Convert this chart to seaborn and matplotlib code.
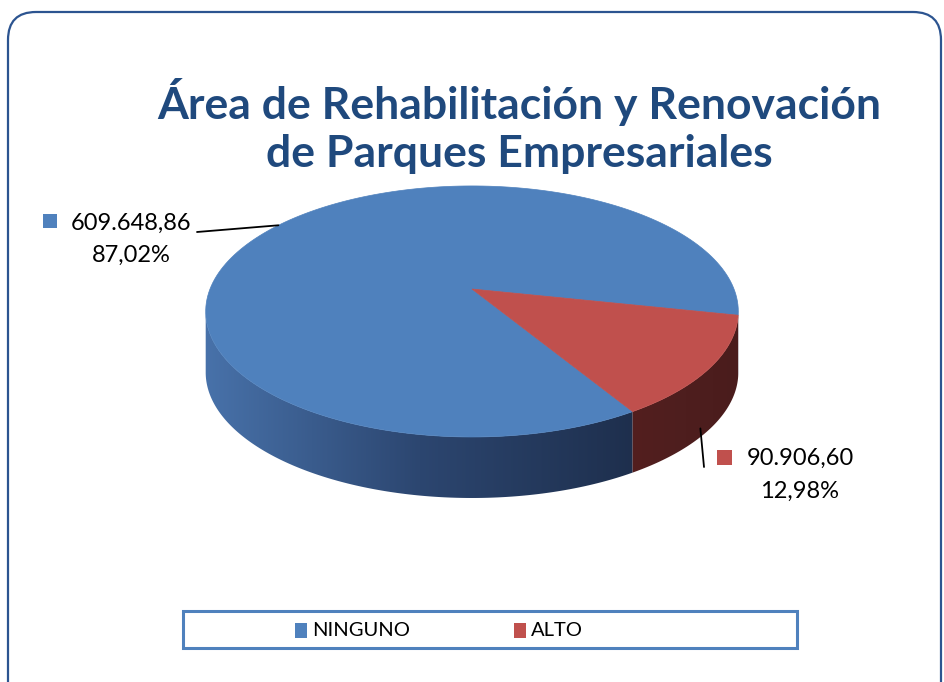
import numpy as np
import matplotlib
matplotlib.use("Agg")
import matplotlib.pyplot as plt
import seaborn as sns
from matplotlib.patches import Polygon, FancyBboxPatch, Rectangle
from matplotlib.colors import LinearSegmentedColormap

# data
categories = ["NINGUNO", "ALTO"]
values = [609648.86, 90906.60]
value_labels = ["609.648,86", "90.906,60"]
pct_labels = ["87,02%", "12,98%"]
colors = ["#4F81BD", "#C0504D"]

sns.set_theme(style="white")
plt.rcParams["font.family"] = ["Lato", "DejaVu Sans"]

fig = plt.figure(figsize=(9.44, 6.82), dpi=100)
ax = fig.add_axes([0, 0, 1, 1])
ax.set_xlim(0, 944)
ax.set_ylim(682, 0)
ax.axis("off")

# outer rounded frame
frame = FancyBboxPatch((8, 12), 933, 720, boxstyle="round,pad=0,rounding_size=28",
                       fc="white", ec="#2C5490", lw=1.6, zorder=0)
ax.add_patch(frame)

ax.text(519, 126, "Área de Rehabilitación y Renovación\nde Parques Empresariales",
        ha="center", va="center", fontsize=32, fontweight="bold",
        color="#1F497D", linespacing=1.25)

# 3d pie geometry (simple perspective ellipse)
cx, cy = 472, 289
rx, ry = 262, 121.5
k = 0.179
depth = 61
start = -12.0


def proj(theta, dz=0.0):
    t = np.radians(theta)
    u, v = np.cos(t), np.sin(t)
    d = 1 + k * v
    return cx + rx * u / d, cy - ry * v / d + dz


fracs = np.array(values) / np.sum(values)
edges = start + np.concatenate([[0], np.cumsum(fracs)]) * 360
vis_lo = 180 + np.degrees(np.arcsin(k))
vis_hi = 360 - np.degrees(np.arcsin(k))

side_cols = [("#4872AA", "#2C4670", "#1E2F4D"), ("#531F1F", "#4E1E1E", "#4A1C1C")]
grad = np.linspace(0, 1, 256).reshape(1, -1)
for i in range(len(values)):
    a0, a1 = edges[i] % 360, edges[i] % 360 + fracs[i] * 360
    cmap = LinearSegmentedColormap.from_list("side%d" % i, side_cols[i])
    for off in (0, 360):
        lo, hi = max(a0, vis_lo + off), min(a1, vis_hi + off)
        if hi <= lo:
            continue
        ts = np.linspace(lo, hi, 200)
        top = [proj(t) for t in ts]
        bot = [proj(t, depth) for t in ts[::-1]]
        xs = [p[0] for p in top]
        side = Polygon(top + bot, closed=True, fc="none", ec="none", zorder=2)
        ax.add_patch(side)
        img = ax.imshow(grad, cmap=cmap, aspect="auto",
                        extent=(min(xs) - 2, max(xs) + 2, 510, 170),
                        interpolation="bilinear", zorder=2)
        img.set_clip_path(side)

for i in range(len(values)):
    ts = np.linspace(edges[i], edges[i + 1], 200)
    pts = [(cx, cy)] + [proj(t) for t in ts]
    ax.add_patch(Polygon(pts, closed=True, fc=colors[i], ec=colors[i], lw=0.5, zorder=3))

ax.set_xlim(0, 944)
ax.set_ylim(682, 0)

# data labels with leader lines
mids = (edges[:-1] + edges[1:]) / 2
bx, by = proj(mids[0])
ax.plot([197, bx], [232, by], color="black", lw=1.3, zorder=4)
rx_, ry_ = proj(mids[1], depth)
ax.plot([rx_ - 10, 704], [ry_, 467], color="black", lw=1.3, zorder=4)

ax.add_patch(Rectangle((43, 214), 14, 14, fc=colors[0], ec="none"))
ax.text(131, 223, value_labels[0], ha="center", va="center", fontsize=17, color="black")
ax.text(131, 255, pct_labels[0], ha="center", va="center", fontsize=17, color="black")
ax.add_patch(Rectangle((717, 450), 15, 15, fc=colors[1], ec="none"))
ax.text(800, 458, value_labels[1], ha="center", va="center", fontsize=17, color="black")
ax.text(800, 491, pct_labels[1], ha="center", va="center", fontsize=17, color="black")

# legend box
ax.add_patch(Rectangle((183, 611), 614, 37, fc="white", ec="#4F81BD", lw=2.2, zorder=4))
leg_x = [295, 514]
for i, name in enumerate(categories):
    ax.add_patch(Rectangle((leg_x[i], 623), 12, 15, fc=colors[i], ec="none", zorder=5))
    ax.text(leg_x[i] + 17, 630, name, ha="left", va="center", fontsize=14.5,
            color="black", zorder=5)

fig.savefig("out.png", dpi=100)
